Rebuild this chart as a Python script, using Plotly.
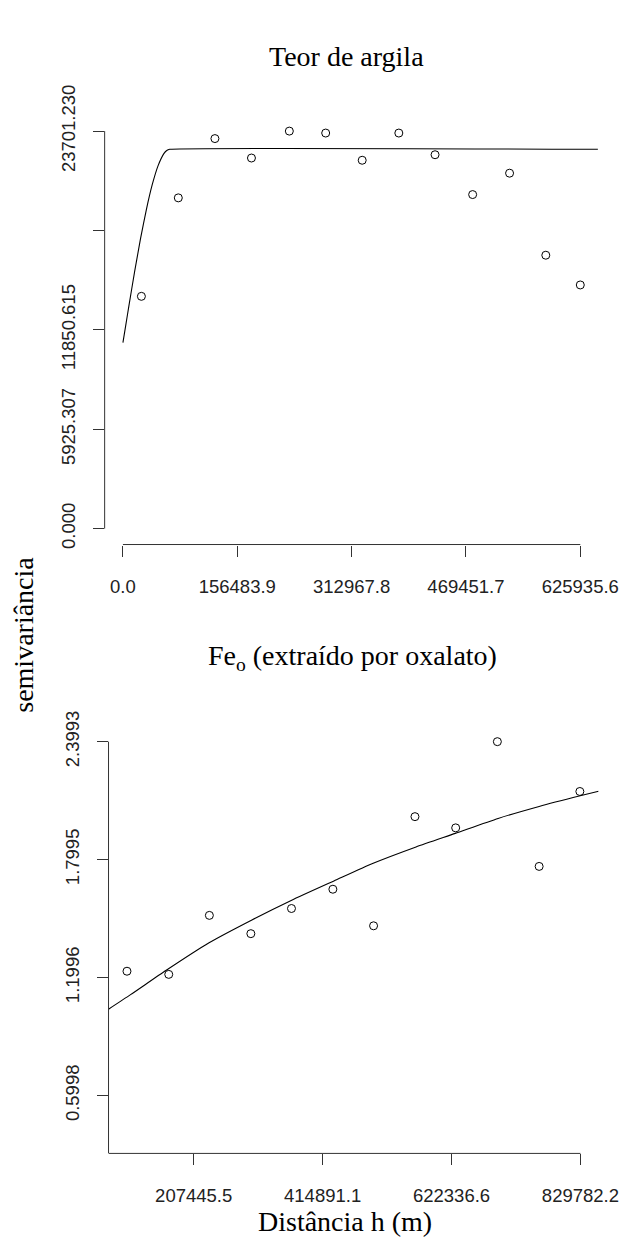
import plotly.graph_objects as go

# ---------------- data ----------------
# Top panel: Teor de argila
top_lag = [25261, 75782, 125906, 175896, 227748, 277472, 327460, 377583, 427173, 478627, 529150, 578740, 625936]
top_gamma = [13850, 19720, 23255, 22096, 23701.23, 23585, 21963, 23585, 22293, 19917, 21192, 16302, 14528]
top_model_h = [0, 4000, 8000, 16000, 24000, 32000, 40000, 48000, 56000, 60000, 64000, 650000]
top_model_g = [11085, 12165, 13240, 15320, 17270, 19010, 20490, 21630, 22360, 22549, 22617, 22617]
top_x_ticks = [0.0, 156483.9, 312967.8, 469451.7, 625935.6]
top_x_labels = ["0.0", "156483.9", "312967.8", "469451.7", "625935.6"]
top_y_ticks = [0.0, 5925.307, 11850.615, 23701.230]
top_y_labels = ["0.000", "5925.307", "11850.615", "23701.230"]
top_y_unlabeled = [17775.922]

# Bottom panel: Fe_o (extraido por oxalato)
bot_lag = [100066, 167296, 232657, 299420, 364781, 431388, 496906, 563513, 629030, 696104, 763334, 828852]
bot_gamma = [1.232, 1.216, 1.516, 1.423, 1.551, 1.649, 1.463, 2.018, 1.961, 2.3993, 1.765, 2.146]
bot_model_h = [70365, 105826, 163250, 232190, 301130, 364320, 433100, 496290, 565230, 628400, 697350, 763330, 829320, 858990]
bot_model_g = [1.039, 1.113, 1.237, 1.377, 1.493, 1.592, 1.691, 1.781, 1.864, 1.933, 2.009, 2.070, 2.124, 2.147]
bot_x_ticks = [207445.5, 414891.1, 622336.6, 829782.2]
bot_x_labels = ["207445.5", "414891.1", "622336.6", "829782.2"]
bot_y_ticks = [0.5998, 1.1996, 1.7995, 2.3993]
bot_y_labels = ["0.5998", "1.1996", "1.7995", "2.3993"]

# ---------------- layout geometry ----------------
W, H = 643, 1243
top_xrange = [-25037, 650973]
top_yrange = [-948, 24649]
bot_xrange = [70365, 858990]
bot_yrange = [0.3057, 2.4798]

top_xdom = [108 / W, 617.8 / W]
top_ydom = [1 - 529 / H, 1 - 87.6 / H]
bot_xdom = [112 / W, 617.8 / W]
bot_ydom = [1 - 1155 / H, 1 - 715.4 / H]

AX_COL = "#333333"
TICK_FONT = dict(family="Liberation Sans, Arial, sans-serif", size=18.5, color="#222222")
TITLE_FONT = dict(family="Liberation Serif, Times New Roman, serif", size=28, color="#000000")

fig = go.Figure()

# top panel
fig.add_trace(go.Scatter(x=top_lag, y=top_gamma, mode="markers",
                         marker=dict(symbol="circle-open", size=8, color="black", line=dict(width=1)),
                         xaxis="x", yaxis="y", showlegend=False))
fig.add_trace(go.Scatter(x=top_model_h, y=top_model_g, mode="lines",
                         line=dict(color="black", width=1.1, shape="spline", smoothing=0.4),
                         xaxis="x", yaxis="y", showlegend=False))
# bottom panel
fig.add_trace(go.Scatter(x=bot_lag, y=bot_gamma, mode="markers",
                         marker=dict(symbol="circle-open", size=8, color="black", line=dict(width=1)),
                         xaxis="x2", yaxis="y2", showlegend=False))
fig.add_trace(go.Scatter(x=bot_model_h, y=bot_model_g, mode="lines",
                         line=dict(color="black", width=1.1, shape="spline", smoothing=0.6),
                         xaxis="x2", yaxis="y2", showlegend=False))

common_axis = dict(showgrid=False, zeroline=False, showline=False, ticks="outside",
                   ticklen=11, tickwidth=1, tickcolor=AX_COL, tickfont=TICK_FONT,
                   tickmode="array")

fig.update_layout(
    width=W, height=H,
    margin=dict(l=0, r=0, t=0, b=0),
    paper_bgcolor="white", plot_bgcolor="white",
    xaxis=dict(domain=top_xdom, range=top_xrange, anchor="y",
               tickvals=top_x_ticks, ticktext=top_x_labels, ticklabelstandoff=14, **common_axis),
    yaxis=dict(domain=top_ydom, range=top_yrange, anchor="x",
               tickvals=top_y_ticks, ticktext=top_y_labels, tickangle=-90, ticklabelstandoff=10,
               minor=dict(tickmode="array", tickvals=top_y_unlabeled, ticks="outside",
                          ticklen=11, tickwidth=1, tickcolor=AX_COL, showgrid=False),
               **common_axis),
    xaxis2=dict(domain=bot_xdom, range=bot_xrange, anchor="y2",
                tickvals=bot_x_ticks, ticktext=bot_x_labels, ticklabelstandoff=14, **common_axis),
    yaxis2=dict(domain=bot_ydom, range=bot_yrange, anchor="x2",
                tickvals=bot_y_ticks, ticktext=bot_y_labels, tickangle=-90, ticklabelstandoff=10,
                **common_axis),
)

# axis lines (R style: from first to last tick, clipped to plot region)
line_style = dict(color=AX_COL, width=1)
shapes = [
    dict(type="line", xref="x", yref="paper", x0=top_x_ticks[0], x1=top_x_ticks[-1],
         y0=top_ydom[0], y1=top_ydom[0], line=line_style),
    dict(type="line", xref="paper", yref="y", x0=top_xdom[0], x1=top_xdom[0],
         y0=top_y_ticks[0], y1=top_y_ticks[-1], line=line_style),
    dict(type="line", xref="x2", yref="paper", x0=bot_xrange[0], x1=bot_x_ticks[-1],
         y0=bot_ydom[0], y1=bot_ydom[0], line=line_style),
    dict(type="line", xref="paper", yref="y2", x0=bot_xdom[0], x1=bot_xdom[0],
         y0=bot_yrange[0], y1=bot_y_ticks[-1], line=line_style),
]
fig.update_layout(shapes=shapes)

annotations = [
    dict(text="Teor de argila", x=357.5 / W, y=1 - 27 / H, xref="paper", yref="paper",
         xanchor="center", yanchor="middle", showarrow=False, font=TITLE_FONT),
    dict(text="Fe<sub>o</sub> (extraído por oxalato)", x=364 / W, y=1 - 645 / H,
         xref="paper", yref="paper", xanchor="center", yanchor="middle", showarrow=False,
         font=TITLE_FONT),
    dict(text="semivariância", x=24 / W, y=0.5, xref="paper", yref="paper",
         xanchor="center", yanchor="middle", textangle=-90, showarrow=False, font=TITLE_FONT),
    dict(text="Distância h (m)", x=356 / W, y=1 - 1225 / H, xref="paper", yref="paper",
         xanchor="center", yanchor="middle", showarrow=False, font=TITLE_FONT),
]
fig.update_layout(annotations=annotations)

post = """
document.documentElement.style.margin='0';
document.documentElement.style.padding='0';
document.documentElement.style.overflow='hidden';
document.body.style.margin='0';
document.body.style.padding='0';
document.body.style.overflow='hidden';
var gds = document.getElementsByClassName('plotly-graph-div');
for (var i = 0; i < gds.length; i++) {
  gds[i].style.position='absolute';
  gds[i].style.top='0px';
  gds[i].style.left='0px';
}
"""
fig.write_html("out.html", config={"displayModeBar": False}, post_script=post)
